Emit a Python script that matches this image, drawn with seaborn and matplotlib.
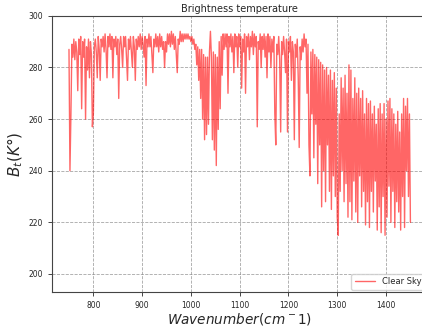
import numpy as np
import seaborn as sns
import matplotlib
matplotlib.use("Agg")
import matplotlib.pyplot as plt

# 光谱采样网格 (cm^-1)，步长 2
wn_start, wn_stop, wn_step = 750, 1450, 2

# 亮温 (K)，每行 10 个点 = 20 cm^-1
bt = [
    287, 240, 262, 289, 284, 291, 283, 290, 286, 271,   # 750
    291, 285, 292, 264, 290, 284, 291, 260, 288, 279,   # 770
    291, 276, 290, 285, 257, 262, 288, 291, 286, 276,   # 790
    292, 287, 275, 291, 288, 292, 286, 293, 287, 276,   # 810
    292, 288, 293, 287, 292, 276, 291, 288, 292, 285,   # 830
    291, 268, 289, 292, 287, 280, 292, 288, 292, 283,   # 850
    275, 291, 287, 292, 286, 280, 292, 288, 275, 291,   # 870
    287, 292, 288, 293, 287, 292, 289, 284, 292, 273,   # 890
    291, 288, 293, 288, 292, 285, 278, 291, 288, 293,   # 910
    288, 292, 286, 293, 288, 292, 287, 290, 280, 290,   # 930
    286, 293, 289, 293, 288, 294, 289, 293, 287, 292,   # 950
    285, 278, 291, 289, 294, 290, 293, 290, 293, 291,   # 970
    293, 291, 293, 291, 292, 290, 292, 289, 291, 287,   # 990
    289, 281, 288, 275, 287, 268, 287, 260, 285, 252,   # 1010
    284, 254, 284, 258, 286, 294, 284, 252, 286, 248,   # 1030
    285, 242, 284, 256, 290, 264, 292, 277, 293, 287,   # 1050
    293, 288, 293, 270, 292, 288, 293, 286, 292, 278,   # 1070
    293, 288, 292, 280, 293, 288, 292, 272, 291, 286,   # 1090
    293, 270, 292, 288, 293, 283, 292, 288, 294, 285,   # 1110
    293, 288, 292, 257, 290, 287, 293, 280, 292, 287,   # 1130
    293, 284, 292, 276, 293, 286, 292, 280, 291, 286,   # 1150
    292, 262, 250, 289, 285, 292, 283, 255, 290, 285,   # 1170
    292, 286, 278, 291, 255, 290, 286, 292, 275, 290,   # 1190
    286, 252, 289, 284, 291, 276, 249, 288, 283, 291,   # 1210
    286, 293, 288, 291, 270, 289, 250, 238, 286, 262,   # 1230
    287, 245, 285, 258, 284, 235, 283, 250, 282, 226,   # 1250
    281, 240, 279, 228, 280, 250, 277, 232, 279, 225,   # 1270
    275, 238, 278, 230, 272, 222, 215, 262, 232, 276,   # 1290
    240, 272, 228, 277, 235, 270, 222, 281, 228, 279,   # 1310
    221, 268, 236, 276, 224, 270, 220, 272, 238, 268,   # 1330
    226, 271, 232, 262, 219, 268, 228, 266, 218, 267,   # 1350
    232, 262, 224, 265, 236, 258, 217, 264, 226, 266,   # 1370
    216, 262, 230, 266, 215, 260, 222, 267, 234, 268,   # 1390
    220, 264, 232, 262, 218, 258, 228, 263, 224, 255,   # 1410
    217, 262, 230, 268, 218, 265, 240, 268, 230, 262,   # 1430
    220,                                                # 1450
]
wavenumber = np.arange(wn_start, wn_stop + 1, wn_step)

sns.set_style("ticks")
plt.rcParams['font.family'] = ['DejaVu Sans']

fig = plt.figure(figsize=(4.22, 3.30), dpi=100)
ax = fig.add_axes([0.123, 0.115, 0.89, 0.837])

sns.lineplot(x=wavenumber, y=bt, color="red", alpha=0.6, linewidth=1.0,
             label="Clear Sky", ax=ax)

ax.set_ylim(193, 300)
ax.set_xticks([800, 900, 1000, 1100, 1200, 1300, 1400])
ax.set_yticks([200, 220, 240, 260, 280, 300])
ax.grid(True, linestyle="--", color="gray", linewidth=0.6, alpha=0.7)
ax.tick_params(labelsize=5.5, length=3, width=0.6)
for s in ax.spines.values():
    s.set_linewidth(0.8)
    s.set_color("#444444")

ax.set_title("Brightness temperature", fontsize=7, pad=3)
ax.set_xlabel("$Wavenumber(cm^-1)$", fontsize=9.8, labelpad=1)
ax.set_ylabel("$B_t(K°)$", fontsize=11, labelpad=2)
ax.legend(loc="lower right", fontsize=6, framealpha=0.8, handlelength=2.5,
          borderaxespad=0.3)

fig.savefig("out.png", dpi=100)
